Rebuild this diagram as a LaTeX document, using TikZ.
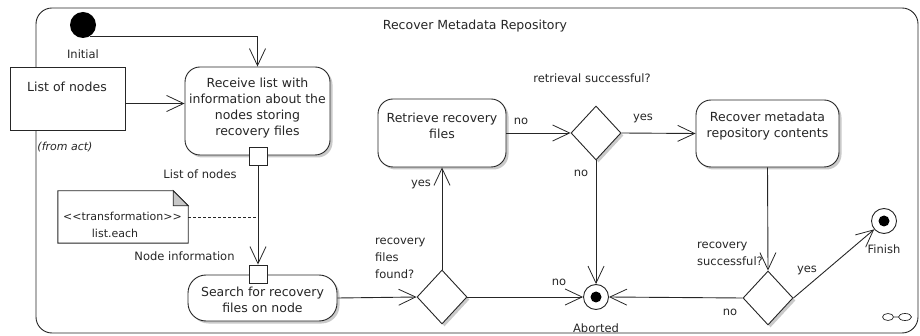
\documentclass[tikz,border=0pt]{standalone}
\usepackage{fontspec}
\setmainfont{DejaVu Sans}
\usetikzlibrary{arrows.meta,shapes.geometric,shadows}
\begin{document}
\begin{tikzpicture}[x=1pt,y=-1pt,
  ink/.style={draw=black!85, line width=0.9pt},
  boxtext/.style={font=\fontsize{12.5}{16}\selectfont, align=center, inner sep=0pt, text=black!85},
  lbl/.style={font=\fontsize{11.5}{17}\selectfont, inner sep=0pt, text=black!85},
  softshadow/.style={drop shadow={shadow xshift=2.5pt, shadow yshift=-2.5pt, fill=black!35, opacity=0.6}},
  action/.style={ink, rounded corners=15pt, fill=white, softshadow, inner sep=0pt},
  decision/.style={ink, diamond, fill=white, softshadow, minimum width=50pt, minimum height=54pt, inner sep=0pt},
  pinbox/.style={ink, fill=white, rectangle, minimum size=18pt, inner sep=0pt},
  finalnode/.style={ink, circle, fill=white, minimum size=25pt, inner sep=0pt,
    path picture={\fill[black] (path picture bounding box.center) circle (5.5pt);}},
  flow/.style={ink, -{Straight Barb[length=17pt,width=16pt,line width=0.8pt]}},
]
\useasboundingbox (0,0) rectangle (920,336);

% activity frame
\node[ink, rounded corners=16pt, minimum width=882pt, minimum height=325pt, inner sep=0pt] (activity) at (477,170.5) {};
\node[boxtext] (title) at (475,26) {Recover Metadata Repository};

% initial node and input parameter
\node[circle, fill=black, minimum size=26pt, inner sep=0pt] (init) at (83,25) {};
\node[lbl] (initlbl) at (83,54) {Initial};
\node[ink, fill=white, minimum width=115pt, minimum height=63pt, inner sep=0pt] (listbox) at (67.5,98.5) {};
\node[boxtext] (listtxt) at (67,87) {List of nodes};
\node[lbl, font=\fontsize{11}{13}\itshape] (fromact) at (65,147) {(from act)};

% actions
\node[action, minimum width=145pt, minimum height=88pt] (receive) at (257.5,111) {};
\node[boxtext] (receivetxt) at (257.5,108.5) {Receive list with\\information about the\\nodes storing\\recovery files};
\node[action, rounded corners=18pt, minimum width=149pt, minimum height=46pt] (search) at (262.5,298) {};
\node[boxtext] (searchtxt) at (262.5,300) {Search for recovery\\files on node};
\node[action, minimum width=128pt, minimum height=68pt] (retrieve) at (442,133) {};
\node[boxtext] (retrievetxt) at (442,126) {Retrieve recovery\\files};
\node[action, minimum width=143pt, minimum height=67pt] (recover) at (767.5,133.5) {};
\node[boxtext] (recovertxt) at (767.5,126.5) {Recover metadata\\repository contents};

% pins
\node[pinbox] (pin1) at (258,156) {};
\node[pinbox] (pin2) at (258,274) {};
\node[lbl] (pin1lbl) at (200,174) {List of nodes};
\node[lbl] (pin2lbl) at (184.5,256) {Node information};

% transformation note
\node[minimum width=130pt, minimum height=52pt, inner sep=0pt] (note) at (123,217) {};
\draw[ink, fill=white] (note.north west) -- ([xshift=-15pt]note.north east) -- ([yshift=-15pt]note.north east)
  -- (note.south east) -- (note.south west) -- cycle;
\draw[ink, fill=black!22] ([xshift=-15pt]note.north east) -- ([xshift=-15pt,yshift=-15pt]note.north east)
  -- ([yshift=-15pt]note.north east) -- cycle;
\node[lbl, font=\fontsize{11}{13}\selectfont] (notetxt1) at (122.5,216) {<{}<transformation>{}>};
\node[lbl, font=\fontsize{11}{13}\selectfont] (notetxt2) at (115,233) {list.each};

% decisions
\node[decision] (d1) at (442,297) {};
\node[decision] (d2) at (596,133) {};
\node[decision] (d3) at (768,298) {};
\node[lbl, align=left, anchor=west] (d1lbl) at (375,258) {recovery\\files\\found?};
\node[lbl] (d2lbl) at (592,78) {retrieval successful?};
\node[lbl, align=left, anchor=west, font=\fontsize{11.5}{17}\selectfont] (d3lbl) at (697,253.5) {recovery\\successful?};

% final nodes
\node[finalnode] (aborted) at (596,297) {};
\node[lbl] (abortedlbl) at (596,328) {Aborted};
\node[finalnode] (finish) at (884,221) {};
\node[lbl] (finishlbl) at (884,249) {Finish};

% control and object flows
\draw[flow] (init.-60) -| (receive.north);
\draw[flow] ([yshift=-5pt]listbox.east) -- ([yshift=-5pt]listbox.east -| receive.west);
\draw[flow] (pin1.south) -- (pin2.north);
\draw[ink, dashed, dash pattern=on 3pt off 2pt] (note.east) -- (note.east -| pin1.south);
\draw[flow] (search.east) -- (d1.west);
\draw[flow] (d1.north) -- (d1.north |- retrieve.south);
\draw[flow] (retrieve.east) -- (d2.west);
\draw[flow] (d2.east) -- (recover.west);
\draw[flow] (recover.south) -- (d3.north);
\draw[flow] (d3.east) -- (finish);
\draw[flow] (d3.west) -- (aborted.east);
\draw[flow] (d2.south) -- (aborted.north);
\draw[flow] (d1.east) -- (aborted.west);

% guard labels
\node[lbl] (g1) at (421,184) {yes};
\node[lbl] (g2) at (521,121) {no};
\node[lbl] (g3) at (643,118) {yes};
\node[lbl] (g4) at (581,173) {no};
\node[lbl] (g5) at (559,282) {no};
\node[lbl] (g6) at (730,312) {no};
\node[lbl] (g7) at (807,270) {yes};

% expansion marker
\draw[ink, line width=0.7pt] (888,317) ellipse (5.5pt and 3.5pt) (905,317) ellipse (6.5pt and 3.5pt)
  (893.5,317) -- (898.5,317);
\end{tikzpicture}
\end{document}
